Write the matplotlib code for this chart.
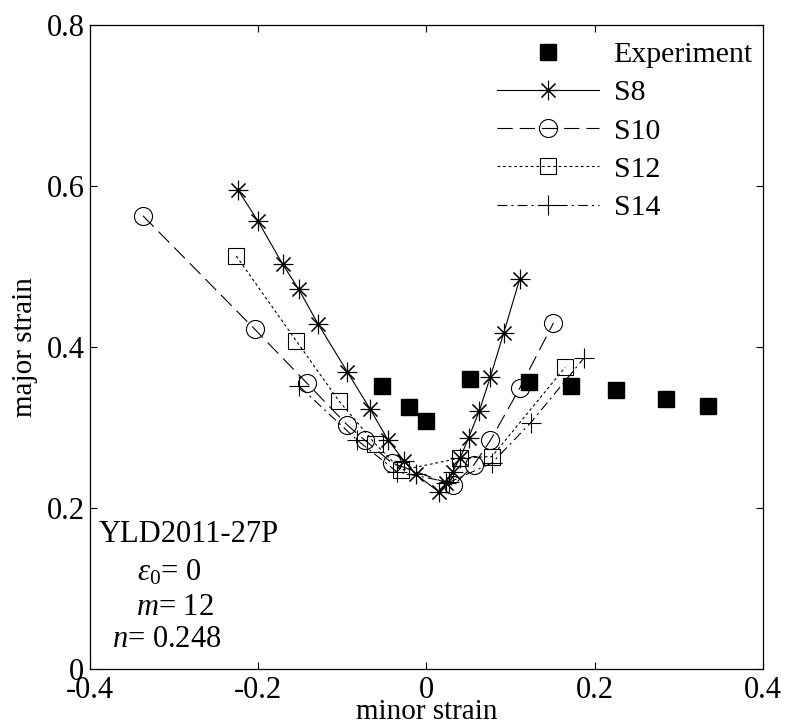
import matplotlib
matplotlib.use("Agg")
import matplotlib.pyplot as plt

# experiment and simulated forming limit points
exp_x = [-0.053, -0.021, 0.000, 0.052, 0.122, 0.172, 0.225, 0.285, 0.335]
exp_y = [0.352, 0.325, 0.308, 0.360, 0.356, 0.352, 0.347, 0.336, 0.327]

s8_x = [-0.224, -0.200, -0.171, -0.152, -0.129, -0.094, -0.067, -0.046, -0.027, -0.013,
        0.015, 0.023, 0.031, 0.040, 0.050, 0.063, 0.076, 0.092, 0.111]
s8_y = [0.595, 0.556, 0.503, 0.472, 0.429, 0.369, 0.323, 0.285, 0.259, 0.242,
        0.220, 0.231, 0.245, 0.262, 0.287, 0.321, 0.363, 0.418, 0.485]

s10_x = [-0.337, -0.204, -0.142, -0.094, -0.073, -0.041, 0.032, 0.056, 0.076, 0.111, 0.151]
s10_y = [0.563, 0.422, 0.355, 0.303, 0.284, 0.256, 0.228, 0.253, 0.284, 0.349, 0.430]

s12_x = [-0.226, -0.155, -0.104, -0.061, -0.030, 0.040, 0.078, 0.165]
s12_y = [0.513, 0.408, 0.333, 0.280, 0.247, 0.262, 0.264, 0.375]

s14_x = [-0.151, -0.082, -0.035, 0.027, 0.078, 0.124, 0.187]
s14_y = [0.351, 0.284, 0.245, 0.232, 0.256, 0.306, 0.386]

xticks = [-0.4, -0.2, 0, 0.2, 0.4]
xtick_labels = ['-0.4', '-0.2', '0', '0.2', '0.4']
yticks = [0, 0.2, 0.4, 0.6, 0.8]
ytick_labels = ['0', '0.2', '0.4', '0.6', '0.8']

plt.rcParams['font.family'] = ['Liberation Serif', 'DejaVu Serif']
plt.rcParams['mathtext.fontset'] = 'custom'
plt.rcParams['mathtext.rm'] = 'Liberation Serif'
plt.rcParams['mathtext.it'] = 'Liberation Serif:italic'
plt.rcParams['axes.unicode_minus'] = False
plt.rcParams['lines.scale_dashes'] = False

fig = plt.figure(figsize=(7.85, 7.25), dpi=100)
ax = fig.add_axes([0.1146, 0.0772, 0.8573, 0.8883])

lw = 0.8
ax.plot(exp_x, exp_y, linestyle='none', marker='s', color='black', markersize=12,
        label='Experiment')
ax.plot(s8_x, s8_y, color='black', lw=lw, marker=(8, 2, 0), markersize=14,
        markeredgewidth=0.8, label='S8')
ax.plot(s10_x, s10_y, color='black', lw=lw, linestyle=(0, (11, 5)), marker='o',
        markersize=13, markerfacecolor='none', markeredgewidth=0.8, label='S10')
ax.plot(s12_x, s12_y, color='black', lw=lw, linestyle=(0, (2, 2)), marker='s',
        markersize=11.5, markerfacecolor='none', markeredgewidth=0.8, label='S12')
ax.plot(s14_x, s14_y, color='black', lw=lw, linestyle=(0, (7, 3, 1.5, 3)), marker='+',
        markersize=14, markeredgewidth=0.8, label='S14')

ax.set_xlim(-0.4, 0.4)
ax.set_ylim(0, 0.8)
ax.set_xticks(xticks)
ax.set_xticklabels(xtick_labels)
ax.set_yticks(yticks)
ax.set_yticklabels(ytick_labels)
ax.tick_params(direction='in', length=5, width=0.8, labelsize=22, top=True, right=True)
ax.tick_params(axis='x', pad=5)
ax.tick_params(axis='y', pad=4)
for sp in ax.spines.values():
    sp.set_linewidth(0.9)

ax.set_xlabel('minor strain', fontsize=21, labelpad=-4)
ax.set_ylabel('major strain', fontsize=21, labelpad=6)

ax.legend(loc='upper left', bbox_to_anchor=(0.605, 0.975), frameon=False, fontsize=21.5,
          handlelength=3.4, handletextpad=0.5, borderpad=0, borderaxespad=0,
          labelspacing=0.38)

ax.text(0.0134, 0.198, 'YLD2011-27P', transform=ax.transAxes, fontsize=22, va='baseline')
ax.text(0.0698, 0.138, r'$\varepsilon_0$= 0', transform=ax.transAxes, fontsize=22, va='baseline')
ax.text(0.068, 0.084, r'$m$= 12', transform=ax.transAxes, fontsize=22, va='baseline')
ax.text(0.0327, 0.034, r'$n$= 0.248', transform=ax.transAxes, fontsize=22, va='baseline')

fig.savefig('out.png', dpi=100)
